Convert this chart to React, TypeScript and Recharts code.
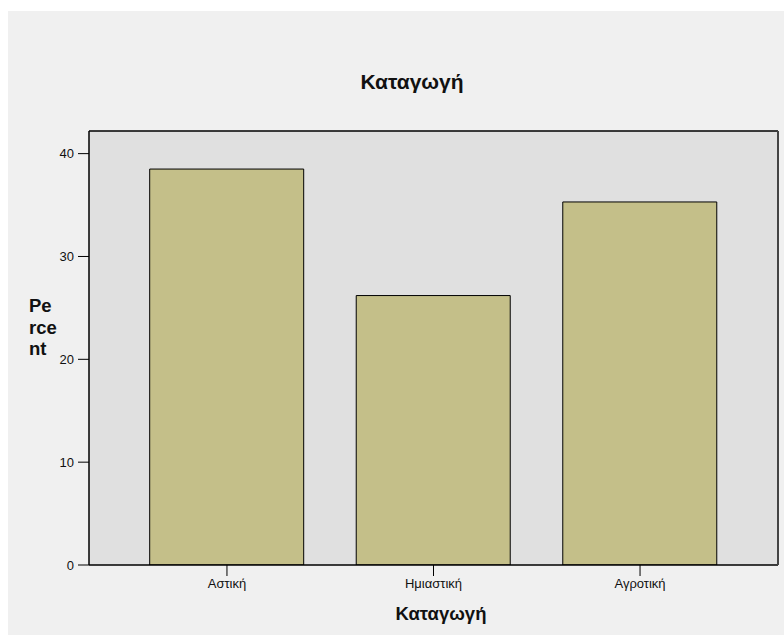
import React from "react";
import { BarChart, Bar, XAxis, YAxis, CartesianGrid } from "recharts";

const categories = ["Αστική", "Ημιαστική", "Αγροτική"];
const percents = [38.5, 26.2, 35.3];
const yTicks = [0, 10, 20, 30, 40];
const titleText = "Καταγωγή";
const xLabel = "Καταγωγή";
const yLabelLines = ["Pe", "rce", "nt"];

const data = categories.map((name, i) => ({ name, value: percents[i] }));

const FONT = "Arial, 'Liberation Sans', Helvetica, sans-serif";
const W = 776;
const H = 624;

export default function App() {
  return (
    <div
      style={{
        position: "absolute",
        left: 8,
        top: 11,
        width: W,
        height: H,
        background: "#f0f0f0",
        fontFamily: FONT,
      }}
    >
      <BarChart
        width={W}
        height={H}
        data={data}
        margin={{ top: 119, right: 5, bottom: 0, left: 0 }}
        barSize={154}
      >
        <CartesianGrid horizontal={false} vertical={false} fill="#e0e0e0" fillOpacity={1} />
        <XAxis
          dataKey="name"
          padding={{ left: 34.7, right: 34.7 }}
          tickSize={11}
          tickMargin={3}
          tick={{ fontSize: 13, fill: "#111", fontFamily: FONT }}
          axisLine={{ stroke: "#000", strokeWidth: 1.5 }}
          tickLine={{ stroke: "#000" }}
          height={70}
        />
        <XAxis
          xAxisId="top"
          dataKey="name"
          orientation="top"
          height={1}
          tick={false}
          tickLine={false}
          axisLine={{ stroke: "#000", strokeWidth: 1.5 }}
        />
        <YAxis
          type="number"
          domain={[0, 42.2]}
          ticks={yTicks}
          width={81}
          tickSize={11}
          tickMargin={4}
          tick={{ fontSize: 13, fill: "#111", fontFamily: FONT }}
          axisLine={{ stroke: "#000", strokeWidth: 1.5 }}
          tickLine={{ stroke: "#000" }}
          allowDataOverflow
        />
        <YAxis
          yAxisId="right"
          orientation="right"
          type="number"
          domain={[0, 42.2]}
          width={1}
          tick={false}
          tickLine={false}
          axisLine={{ stroke: "#444", strokeWidth: 2 }}
        />
        <Bar
          dataKey="value"
          fill="#c4bf89"
          stroke="#000"
          strokeWidth={1}
          isAnimationActive={false}
        />
      </BarChart>
      <svg
        width={W}
        height={H}
        style={{ position: "absolute", left: 0, top: 0, pointerEvents: "none" }}
      >
        <text
          x={404}
          y={77.5}
          textAnchor="middle"
          fontSize={21}
          fontWeight="bold"
          fontFamily={FONT}
          fill="#111"
        >
          {titleText}
        </text>
        <text
          x={433}
          y={609}
          textAnchor="middle"
          fontSize={18.5}
          fontWeight="bold"
          fontFamily={FONT}
          fill="#111"
        >
          {xLabel}
        </text>
        {yLabelLines.map((t, i) => (
          <text
            key={t}
            x={21}
            y={301 + i * 21.7}
            fontSize={18.5}
            fontWeight="bold"
            fontFamily={FONT}
            fill="#111"
          >
            {t}
          </text>
        ))}
      </svg>
    </div>
  );
}
